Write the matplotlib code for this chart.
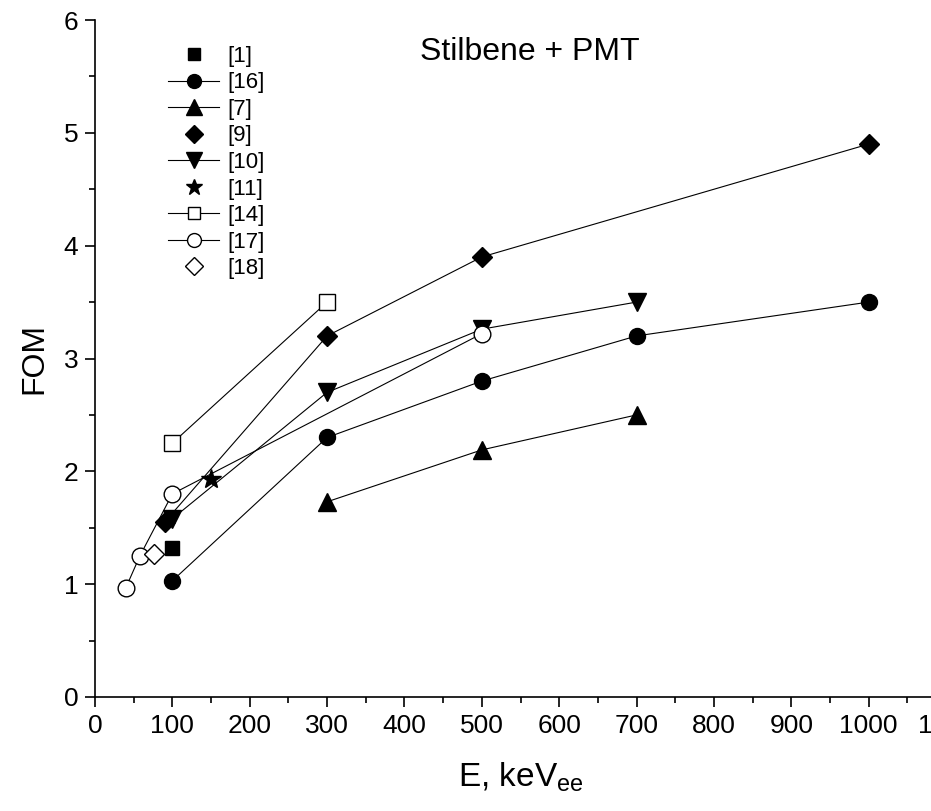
import matplotlib
matplotlib.use('Agg')
import matplotlib.pyplot as plt
from matplotlib.lines import Line2D

plt.rcParams['font.family'] = ['Liberation Sans Narrow', 'Liberation Sans', 'DejaVu Sans']
plt.rcParams['mathtext.fontset'] = 'custom'
plt.rcParams['mathtext.rm'] = 'Liberation Sans'

# data: energy (keVee) and FOM for each reference
e1 = [100]
fom1 = [1.32]
e16 = [100, 300, 500, 700, 1000]
fom16 = [1.03, 2.30, 2.80, 3.20, 3.50]
e7 = [300, 500, 700]
fom7 = [1.73, 2.19, 2.50]
e9 = [90, 300, 500, 1000]
fom9 = [1.55, 3.20, 3.90, 4.90]
e10 = [100, 300, 500, 700]
fom10 = [1.58, 2.70, 3.26, 3.50]
e11 = [150]
fom11 = [1.93]
e14 = [100, 300]
fom14 = [2.25, 3.50]
e17 = [40, 58, 100, 500]
fom17 = [0.97, 1.25, 1.80, 3.22]
e18 = [76]
fom18 = [1.27]

labels = ['[1]', '[16]', '[7]', '[9]', '[10]', '[11]', '[14]', '[17]', '[18]']

W, H = 931, 811
fig = plt.figure(figsize=(W/100, H/100), dpi=100)
# right edge runs past the canvas so only the "1" of 1100 shows
ax = fig.add_axes([95/W, 114/H, 851/W, 677/H])

lw = 0.8
k = 'black'
ax.plot(e1, fom1, ls='none', marker='s', ms=10, color=k)
ax.plot(e16, fom16, '-', lw=lw, marker='o', ms=11.5, color=k)
ax.plot(e7, fom7, '-', lw=lw, marker='^', ms=13, color=k)
ax.plot(e9, fom9, '-', lw=lw, marker='D', ms=10, color=k)
ax.plot(e10, fom10, '-', lw=lw, marker='v', ms=13, color=k)
ax.plot(e11, fom11, ls='none', marker='*', ms=15, color=k)
ax.plot(e14, fom14, '-', lw=lw, marker='s', ms=11, color=k, mfc='white', mew=1.0)
ax.plot(e17, fom17, '-', lw=lw, marker='o', ms=12, color=k, mfc='white', mew=1.0)
ax.plot(e18, fom18, ls='none', marker='D', ms=10, color=k, mfc='white', mew=1.0)

handles = [
    Line2D([], [], ls='none', marker='s', ms=9, color=k),
    Line2D([], [], lw=lw, marker='o', ms=10, color=k),
    Line2D([], [], lw=lw, marker='^', ms=11, color=k),
    Line2D([], [], ls='none', marker='D', ms=9, color=k),
    Line2D([], [], lw=lw, marker='v', ms=11, color=k),
    Line2D([], [], ls='none', marker='*', ms=12, color=k),
    Line2D([], [], lw=lw, marker='s', ms=9, color=k, mfc='white'),
    Line2D([], [], lw=lw, marker='o', ms=10, color=k, mfc='white'),
    Line2D([], [], ls='none', marker='D', ms=9, color=k, mfc='white'),
]
ax.legend(handles, labels, loc='upper left', bbox_to_anchor=(0.086, 0.962),
          frameon=False, fontsize=16, handlelength=2.3, handletextpad=0.35,
          labelspacing=0.25, borderpad=0, borderaxespad=0)

ax.text(0.511, 0.953, 'Stilbene + PMT', transform=ax.transAxes,
        ha='center', va='center', fontsize=23, family=['Liberation Sans'])

ax.set_xlim(0, 1100)
ax.set_ylim(0, 6)
ax.set_xticks(range(0, 1101, 100))
ax.set_xticks(range(50, 1100, 100), minor=True)
ax.set_yticks(range(0, 7))
ax.set_yticks([0.5 + i for i in range(6)], minor=True)
ax.spines['top'].set_visible(False)
ax.spines['right'].set_visible(False)
for s in ['left', 'bottom']:
    ax.spines[s].set_linewidth(1.2)
ax.tick_params(which='major', direction='out', length=7, width=1.2, labelsize=19, pad=5)
ax.tick_params(which='minor', direction='out', length=4, width=1.2)

ax.set_ylabel('FOM', fontsize=23, labelpad=10, family=['Liberation Sans'])
ax.set_xlabel('E, keV$_{\\mathregular{ee}}$', fontsize=24, labelpad=16)

fig.savefig('out.png', dpi=100)
